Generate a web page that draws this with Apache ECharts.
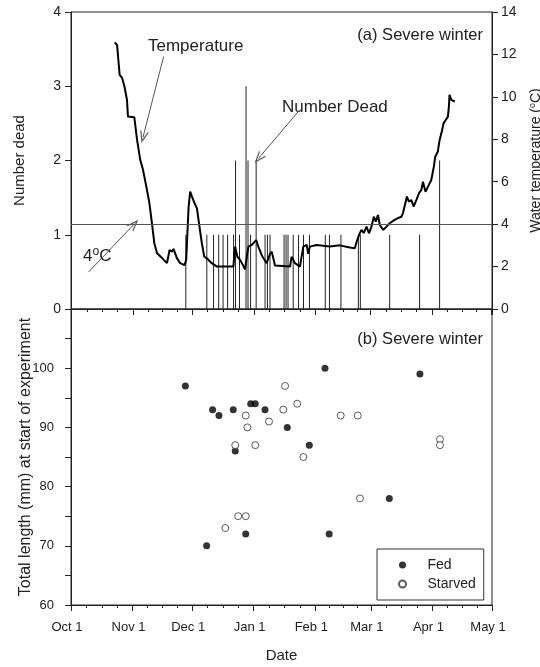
<!DOCTYPE html>
<html>
<head>
<meta charset="utf-8">
<script src="https://cdn.jsdelivr.net/npm/echarts@6/dist/echarts.min.js"></script>
<style>
html, body { margin: 0; padding: 0; background: #fff; }
#chart { width: 540px; height: 667px; }
</style>
</head>
<body>
<div id="chart"></div>
<script>
// all days are counted from Oct 1
var monthNames = ['Jan', 'Feb', 'Mar', 'Apr', 'May', 'Jun', 'Jul', 'Aug', 'Sep', 'Oct', 'Nov', 'Dec']

// Water temperature (deg C)
var tempDay = [
	21.8, 23.0, 24.3, 25.5, 26.7, 28.0, 28.5, 31.7, 33.1, 34.7,
	36.1, 38.1, 39.3, 40.6, 41.8, 43.2, 45.7, 48.2, 49.5, 50.7,
	51.5, 53.2, 54.9, 57.0, 57.9, 59.1, 59.9, 60.8, 62.1, 63.3,
	64.6, 65.8, 67.0, 68.3, 70.8, 73.4, 75.0, 81.7, 82.6, 83.7,
	85.1, 86.5, 87.6, 88.5, 89.3, 91.0, 93.2, 94.3, 96.2, 98.5,
	100.2, 101.1, 102.7, 103.6, 110.3, 111.1, 112.8, 115.3, 117.0, 118.7,
	119.5, 120.3, 123.7, 130.4, 135.4, 140.5, 143.0, 144.2, 145.5, 146.4,
	147.5, 148.9, 150.2, 151.4, 152.6, 153.6, 154.7, 155.6, 157.3, 159.0,
	160.6, 163.1, 164.8, 166.5, 167.3, 168.2, 169.3, 170.3, 171.5, 172.7,
	174.1, 175.4, 176.6, 177.4, 178.7, 180.4, 181.6, 182.4, 182.9, 183.6,
	184.9, 185.8, 186.7, 187.8, 188.8, 190.0, 190.5, 190.8, 191.7, 192.5,
	193.5,
]
var tempValue = [
	12.56, 12.45, 11.04, 10.9, 10.5, 9.86, 9.07, 9.04, 7.97, 7.03,
	6.56, 5.61, 5.0, 4.05, 3.1, 2.63, 2.4, 2.16, 2.78, 2.7,
	2.83, 2.4, 2.16, 2.07, 2.3, 4.8, 5.53, 5.3, 4.99, 4.75,
	3.88, 3.1, 2.47, 2.39, 2.16, 2.0, 2.0, 2.0, 2.94, 2.47,
	2.31, 2.08, 1.87, 2.47, 2.94, 3.02, 3.25, 2.94, 2.5, 2.16,
	2.6, 2.7, 2.05, 2.0, 2.0, 2.47, 2.16, 2.0, 2.94, 3.02,
	2.6, 2.94, 3.02, 2.95, 3.0, 2.9, 2.86, 3.25, 3.57, 3.73,
	3.58, 3.88, 3.57, 3.88, 4.35, 4.12, 4.43, 3.96, 3.73, 3.88,
	4.04, 4.2, 4.28, 4.35, 4.51, 4.43, 5.3, 5.06, 5.14, 4.83,
	5.14, 5.46, 5.61, 6.0, 5.53, 5.85, 6.08, 6.16, 6.71, 7.18,
	7.42, 7.97, 8.28, 8.75, 8.9, 9.07, 9.54, 10.1, 9.86, 9.86,
	9.78,
]

// Number dead per day
var deadDay = [
	57.7, 68.3, 71.7, 74.3, 76.5, 78.8, 81.8, 82.8, 84.8, 88.1,
	89.1, 90.4, 93.2, 97.7, 98.9, 100.2, 107.3, 108.3, 109.3, 111.9,
	114.6, 117.1, 120.1, 128.1, 130.2, 136.0, 144.8, 145.8, 160.6, 175.7,
	185.8,
]
var deadCount = [
	1, 1, 1, 1, 1, 1, 1, 2, 1, 3,
	2, 1, 2, 1, 1, 1, 1, 1, 1, 1,
	1, 1, 1, 1, 1, 1, 1, 1, 1, 1,
	2,
]

// Total length (mm) at start of experiment, by date of death
var fedDay = [57.6, 68.3, 71.3, 74.5, 81.7, 82.7, 88.0, 90.5, 92.8, 97.7, 108.9, 120.0, 127.9, 130.0, 160.3, 175.7]
var fedLength = [97, 70, 93, 92, 93, 86, 72, 94, 94, 93, 90, 87, 100, 72, 78, 99]
var starvedDay = [77.7, 82.7, 84.2, 88.0, 88.0, 88.8, 92.8, 99.7, 106.9, 107.8, 113.9, 117.0, 135.8, 144.4, 145.5, 185.8, 185.8]
var starvedLength = [73, 87, 75, 92, 75, 90, 87, 91, 93, 97, 94, 85, 92, 92, 78, 88, 87]

var FONT = 'Liberation Sans, Arial, Helvetica, sans-serif'
var INK = '#222'
var start = new Date(2000, 9, 1).getTime()
var toTime = (d) => start + d * 24 * 3600 * 1000
var pairs = (days, values) => days.map((d, i) => [toTime(d), values[i]])

// thin open arrow head, tip pointing up
var arrowHead = 'path://M0,10L5,0L10,10L8.6,10L5,3L1.4,10Z'

dateAxis = (gridIndex, showLabels) => {
	return {
		type: 'time',
		gridIndex: gridIndex,
		min: toTime(0),
		max: toTime(212),
		splitNumber: 7,
		axisLine: { lineStyle: { color: INK } },
		axisTick: { length: 6, lineStyle: { color: INK } },
		minorTick: { show: true, splitNumber: 4, length: 3, lineStyle: { color: INK } },
		splitLine: { show: false },
		axisLabel: {
			show: showLabels,
			color: INK,
			fontSize: 13,
			fontFamily: FONT,
			margin: 16,
			padding: [0, 8, 0, 0],
			formatter: (value) => {
				var d = new Date(value)
				return monthNames[d.getMonth()] + ' ' + d.getDate()
			},
		},
		name: showLabels ? 'Date' : '',
		nameLocation: 'middle',
		nameGap: 43,
		nameMoveOverlap: false,
		nameTextStyle: { color: INK, fontSize: 15, fontFamily: FONT },
	}
}

valueAxis = (opts) => {
	return Object.assign(
		{
			type: 'value',
			nameLocation: 'middle',
			nameRotate: 90,
			nameMoveOverlap: false,
			nameTextStyle: { color: INK, fontSize: 15, fontFamily: FONT },
			axisLine: { show: true, lineStyle: { color: INK } },
			axisTick: { show: true, length: 6, lineStyle: { color: INK } },
			splitLine: { show: false },
			axisLabel: { color: INK, fontSize: 14, fontFamily: FONT },
		},
		opts
	)
}

var chart = echarts.init(document.getElementById('chart'))

var option = {
	animation: false,
	backgroundColor: '#fff',
	grid: [
		{ left: 71, right: 48, top: 12, height: 297, show: true, borderColor: INK, borderWidth: 1, outerBoundsMode: 'none' },
		{ left: 71, right: 48, top: 309, height: 296, show: true, borderColor: INK, borderWidth: 1, outerBoundsMode: 'none' },
	],
	xAxis: [dateAxis(0, false), dateAxis(1, true)],
	yAxis: [
		valueAxis({ gridIndex: 0, min: 0, max: 4, interval: 1, name: 'Number dead', nameGap: 44, axisLabel: { color: INK, fontSize: 14, fontFamily: FONT, margin: 10 } }),
		valueAxis({
			gridIndex: 0,
			position: 'right',
			min: 0,
			max: 14,
			interval: 2,
			name: 'Water temperature ({s|o}C)',
			nameGap: 36,
			nameTextStyle: { color: INK, fontSize: 14, fontFamily: FONT, rich: { s: { fontSize: 9, padding: [0, 0, 7, 0] } } },
			axisLabel: { color: INK, fontSize: 14, fontFamily: FONT, margin: 9 },
		}),
		valueAxis({
			gridIndex: 1,
			min: 60,
			max: 110,
			interval: 10,
			name: 'Total length (mm) at start of experiment',
			nameGap: 37,
			nameTextStyle: { color: INK, fontSize: 16, fontFamily: FONT },
			minorTick: { show: true, splitNumber: 2, length: 6, lineStyle: { color: INK } },
			axisLabel: { color: INK, fontSize: 13, fontFamily: FONT, margin: 17, showMaxLabel: false },
		}),
	],
	legend: {
		left: 377,
		top: 549,
		orient: 'vertical',
		data: ['Fed', 'Starved'],
		icon: 'circle',
		itemWidth: 40,
		itemHeight: 7,
		itemGap: 5,
		padding: [9, 8, 9, 21],
		borderColor: '#333',
		borderWidth: 1,
		textStyle: { color: INK, fontSize: 14, fontFamily: FONT },
	},
	series: [
		{
			name: 'Number Dead',
			type: 'bar',
			xAxisIndex: 0,
			yAxisIndex: 0,
			barWidth: 1,
			itemStyle: { color: '#222' },
			data: pairs(deadDay, deadCount),
		},
		{
			name: 'Temperature',
			type: 'line',
			xAxisIndex: 0,
			yAxisIndex: 1,
			showSymbol: false,
			lineStyle: { color: '#000', width: 2 },
			data: pairs(tempDay, tempValue),
			markLine: {
				silent: true,
				symbol: ['none', 'none'],
				label: { show: false },
				lineStyle: { color: '#555', width: 1, type: 'solid' },
				data: [
					{ yAxis: 4 },
					[{ coord: [toTime(46.5), 11.9] }, { coord: [toTime(36.1), 8.1], symbol: arrowHead, symbolSize: [9, 12] }],
					[{ coord: [toTime(8.6), 1.74] }, { coord: [toTime(31.6), 4.0], symbol: arrowHead, symbolSize: [9, 12] }],
					[{ coord: [toTime(115.3), 9.4] }, { coord: [toTime(94.4), 7.1], symbol: arrowHead, symbolSize: [9, 12] }],
				],
			},
		},
		{
			name: 'Fed',
			type: 'scatter',
			xAxisIndex: 1,
			yAxisIndex: 2,
			symbolSize: 7,
			itemStyle: { color: '#000' },
			data: pairs(fedDay, fedLength),
		},
		{
			name: 'Starved',
			type: 'scatter',
			xAxisIndex: 1,
			yAxisIndex: 2,
			symbolSize: 7,
			itemStyle: { color: '#fff', borderColor: '#333', borderWidth: 1 },
			data: pairs(starvedDay, starvedLength),
		},
	],
	graphic: [
		{ type: 'text', right: 57, top: 27, style: { text: '(a) Severe winter', fill: INK, font: '16.5px ' + FONT } },
		{ type: 'text', right: 57, top: 331, style: { text: '(b) Severe winter', fill: INK, font: '16.5px ' + FONT } },
		{ type: 'text', left: 148, top: 38, style: { text: 'Temperature', fill: INK, font: '17px ' + FONT } },
		{ type: 'text', left: 282, top: 99, style: { text: 'Number Dead', fill: INK, font: '17px ' + FONT } },
		{
			type: 'text',
			left: 83,
			top: 246,
			style: {
				text: '{a|4}{s|o}{a|C}',
				rich: {
					a: { fill: INK, fontSize: 17, fontFamily: FONT },
					s: { fill: INK, fontSize: 12, fontFamily: FONT, padding: [0, 0, 8, 0] },
				},
			},
		},
	],
}

chart.setOption(option)
</script>
</body>
</html>
